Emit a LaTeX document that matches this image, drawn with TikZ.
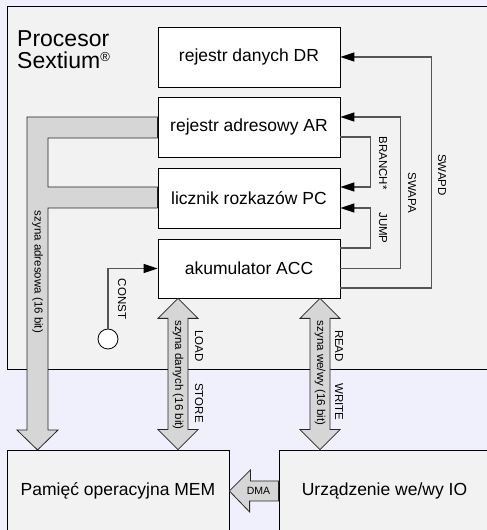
\documentclass[tikz,border=0pt]{standalone}
\usepackage{fontspec}
\setmainfont{Liberation Sans}
\usetikzlibrary{arrows.meta,positioning,calc}
\definecolor{PageLavender}{RGB}{240,240,252}
\definecolor{ProcGray}{RGB}{242,242,242}
\definecolor{BusGray}{RGB}{214,214,214}
\definecolor{WireGray}{RGB}{85,85,85}

\begin{document}
\begin{tikzpicture}[x=1pt,y=1pt,
    regbox/.style={draw=black, fill=white, line width=0.8pt, minimum width=182pt,
      minimum height=60pt, inner sep=0pt, font=\fontsize{17.5}{20}\selectfont},
    devbox/.style={draw=black, fill=ProcGray, line width=0.8pt, minimum height=82pt,
      inner sep=0pt, font=\fontsize{17.5}{20}\selectfont},
    bus/.style={draw=black!85, fill=BusGray, line width=0.8pt},
    wire/.style={draw=WireGray, line width=1.2pt,
      -{Triangle[length=14pt,width=9pt,color=black]}},
    siglabel/.style={font=\fontsize{11.5}{13}\selectfont, rotate=-90, inner sep=0pt},
    titletext/.style={font=\fontsize{23}{22}\selectfont, align=left,
      anchor=north west, inner sep=0pt}]

  \clip (0,0) rectangle (487,530);
  \fill[PageLavender] (0,0) rectangle (487,530);

  % processor
  \draw[fill=ProcGray, line width=0.8pt] (7,161) rectangle (500,524);
  \node[titletext] (title) at (17,500)
    {Procesor\\Sextium\raisebox{7pt}{\fontsize{13}{13}\selectfont ®}};

  % memory and io
  \node[devbox, minimum width=222pt] (mem) at (118,39) {Pamięć operacyjna MEM};
  \node[devbox, minimum width=211pt] (io) at (384.5,39) {Urządzenie we/wy IO};

  % registers
  \node[regbox] (dr) at (249,473) {rejestr danych DR};
  \node[regbox] (ar) at (249,403) {rejestr adresowy AR};
  \node[regbox] (pc) at (249,332) {licznik rozkazów PC};
  \node[regbox, minimum height=59pt] (acc) at (249,261.5) {akumulator ACC};

  % address bus
  \draw[bus] ([yshift=10pt]ar.west) -| (27,100) -- (17,100) -- (37.5,80) -- (58,100)
    -- (48,100) |- ([yshift=-10pt]pc.west) -- ([yshift=11pt]pc.west) -| (48,392)
    -- ([yshift=-11pt]ar.west) -- cycle;
  \node[siglabel] (abus) at (37.5,258) {szyna adresowa (16 bit)};

  % data and io buses
  \coordinate (dtop) at ([xshift=-71pt]acc.south);
  \coordinate (dbot) at ([xshift=60pt]mem.north);
  \coordinate (iotop) at ([xshift=71pt]acc.south);
  \coordinate (iobot) at ([xshift=-64.5pt]io.north);
  \foreach \a/\b in {dtop/dbot, iotop/iobot}
    \draw[bus] (\a) -- ++(20,-20) -- ++(-10,0) -- ($(\b)+(10,20)$) -- ++(10,0) -- (\b)
      -- ++(-20,20) -- ++(10,0) -- ($(\a)+(-10,-20)$) -- ++(-10,0) -- cycle;
  \node[siglabel] (dbus) at (178,155) {szyna danych (16 bit)};
  \node[siglabel] (iobus) at (320,157) {szyna we/wy (16 bit)};
  \node[siglabel] (load) at (199,184) {LOAD};
  \node[siglabel] (store) at (199,127) {STORE};
  \node[siglabel] (read) at (339,184) {READ};
  \node[siglabel] (write) at (339,128) {WRITE};

  % dma
  \draw[bus] (mem.east) -- ++(21,21) -- ++(0,-11) -- ([yshift=10pt]io.west)
    -- ([yshift=-10pt]io.west) -- ++(-29,0) -- ++(0,-11) -- cycle;
  \node[font=\fontsize{10.5}{12}\selectfont, inner sep=0pt] (dma) at (258.5,39) {DMA};

  % control lines
  \draw[wire] ([yshift=-19.5pt]acc.east) -| ([xshift=91pt]dr.east) -- (dr.east);
  \draw[wire] (acc.east) -| ([xshift=60pt,yshift=10pt]ar.east) -- ([yshift=10pt]ar.east);
  \draw[wire] ([yshift=-10pt]ar.east) -| ([xshift=30pt,yshift=11pt]pc.east)
    -- ([yshift=11pt]pc.east);
  \draw[wire] ([yshift=20.5pt]acc.east) -| ([xshift=30pt,yshift=-10pt]pc.east)
    -- ([yshift=-10pt]pc.east);
  \node[siglabel] (swapd) at (442,355) {SWAPD};
  \node[siglabel] (swapa) at (412,337) {SWAPA};
  \node[siglabel] (branch) at (383,367) {BRANCH*};
  \node[siglabel] (jump) at (383,302) {JUMP};

  % constant
  \node[circle, draw=black, fill=white, line width=0.8pt, minimum size=20pt,
    inner sep=0pt] (const) at (108,191) {};
  \draw[wire] (const.north) |- (acc.west);
  \node[siglabel] (constlbl) at (122,231) {CONST};
\end{tikzpicture}
\end{document}
